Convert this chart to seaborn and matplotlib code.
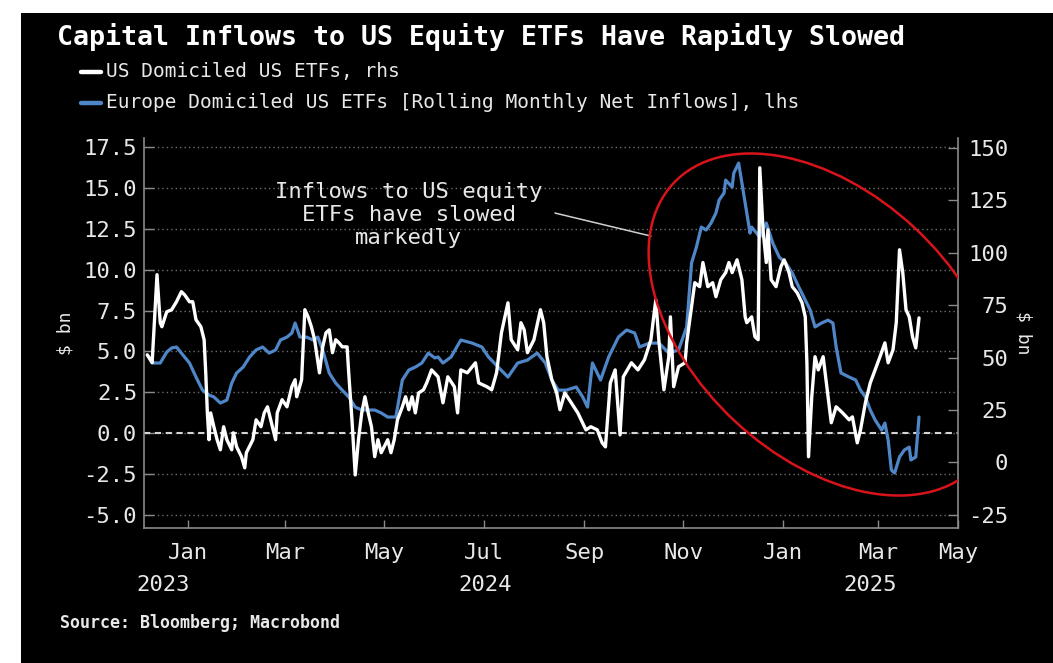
import matplotlib
matplotlib.use("Agg")
import matplotlib.pyplot as plt
import matplotlib.dates as mdates
import matplotlib.transforms as mtransforms
from matplotlib.patches import Ellipse, Rectangle
from matplotlib.lines import Line2D
import pandas as pd
import seaborn as sns

# ---------------------------------------------------------------- data
us_dates = [
    "2023-12-07", "2023-12-10", "2023-12-13", "2023-12-15", "2023-12-16", "2023-12-19",
    "2023-12-22", "2023-12-25", "2023-12-28", "2023-12-30", "2024-01-02", "2024-01-04",
    "2024-01-06", "2024-01-09", "2024-01-11", "2024-01-12", "2024-01-13", "2024-01-14",
    "2024-01-15", "2024-01-17", "2024-01-19", "2024-01-21", "2024-01-23", "2024-01-25",
    "2024-01-28", "2024-01-29", "2024-01-31", "2024-02-03", "2024-02-05", "2024-02-06",
    "2024-02-10", "2024-02-12", "2024-02-15", "2024-02-17", "2024-02-19", "2024-02-21",
    "2024-02-24", "2024-02-25", "2024-02-28", "2024-03-02", "2024-03-05", "2024-03-07",
    "2024-03-08", "2024-03-11", "2024-03-13", "2024-03-15", "2024-03-17", "2024-03-19",
    "2024-03-22", "2024-03-24", "2024-03-26", "2024-03-28", "2024-03-30", "2024-04-01",
    "2024-04-03", "2024-04-05", "2024-04-08", "2024-04-09", "2024-04-11", "2024-04-13",
    "2024-04-15", "2024-04-17", "2024-04-19", "2024-04-21", "2024-04-23", "2024-04-25",
    "2024-04-27", "2024-04-29", "2024-05-03", "2024-05-05", "2024-05-07", "2024-05-09",
    "2024-05-12", "2024-05-14", "2024-05-16", "2024-05-18", "2024-05-20", "2024-05-22",
    "2024-05-25", "2024-05-27", "2024-05-30", "2024-06-03", "2024-06-06", "2024-06-09",
    "2024-06-13", "2024-06-15", "2024-06-17", "2024-06-21", "2024-06-26", "2024-06-28",
    "2024-07-03", "2024-07-06", "2024-07-09", "2024-07-12", "2024-07-16", "2024-07-18",
    "2024-07-22", "2024-07-24", "2024-07-26", "2024-07-28", "2024-08-01", "2024-08-05",
    "2024-08-07", "2024-08-09", "2024-08-12", "2024-08-15", "2024-08-17", "2024-08-20",
    "2024-08-24", "2024-08-28", "2024-09-02", "2024-09-05", "2024-09-09", "2024-09-12",
    "2024-09-14", "2024-09-17", "2024-09-20", "2024-09-23", "2024-09-25", "2024-09-30",
    "2024-10-04", "2024-10-08", "2024-10-12", "2024-10-15", "2024-10-17", "2024-10-20",
    "2024-10-23", "2024-10-24", "2024-10-26", "2024-10-29", "2024-11-02", "2024-11-03",
    "2024-11-06", "2024-11-08", "2024-11-11", "2024-11-13", "2024-11-16", "2024-11-19",
    "2024-11-21", "2024-11-24", "2024-11-27", "2024-11-29", "2024-12-01", "2024-12-04",
    "2024-12-07", "2024-12-09", "2024-12-10", "2024-12-13", "2024-12-15", "2024-12-17",
    "2024-12-18", "2024-12-20", "2024-12-22", "2024-12-23", "2024-12-25", "2024-12-28",
    "2024-12-31", "2025-01-02", "2025-01-05", "2025-01-07", "2025-01-10", "2025-01-13",
    "2025-01-15", "2025-01-16", "2025-01-17", "2025-01-19", "2025-01-21", "2025-01-23",
    "2025-01-26", "2025-01-28", "2025-01-31", "2025-02-03", "2025-02-07", "2025-02-11",
    "2025-02-13", "2025-02-16", "2025-02-18", "2025-02-21", "2025-02-24", "2025-02-27",
    "2025-03-02", "2025-03-05", "2025-03-07", "2025-03-10", "2025-03-12", "2025-03-14",
    "2025-03-16", "2025-03-18", "2025-03-20", "2025-03-22", "2025-03-24", "2025-03-26",
]
us_flows = [
    51.3, 47.5, 89.5, 66.6, 64.7, 71.8,
    72.8, 76.6, 81.4, 79.9, 76.6, 76.6,
    68.0, 64.7, 58.5, 42.7, 23.6, 10.8,
    23.6, 17.0, 10.8, 6.0, 17.0, 10.8,
    6.0, 14.1, 7.4, 2.7, -2.6, 4.6,
    10.8, 20.3, 17.0, 23.6, 26.5, 20.3,
    10.8, 23.6, 29.9, 26.5, 36.1, 39.4,
    31.3, 39.4, 72.8, 69.4, 64.7, 58.5,
    42.7, 55.1, 61.8, 63.2, 52.3, 58.5,
    57.0, 55.1, 55.1, 42.7, 20.3, -6.0,
    10.8, 23.6, 31.3, 23.6, 17.0, 2.7,
    10.8, 4.6, 10.8, 4.6, 10.8, 20.3,
    26.5, 31.3, 25.1, 31.3, 23.6, 33.1,
    34.6, 37.9, 44.1, 40.8, 28.4, 40.8,
    36.1, 23.6, 44.1, 42.7, 47.5, 37.9,
    36.1, 34.6, 42.7, 61.8, 76.1, 58.5,
    53.7, 66.6, 63.2, 52.3, 58.5, 72.8,
    66.6, 50.4, 39.4, 33.1, 25.1, 33.1,
    28.4, 23.6, 15.5, 17.0, 15.5, 9.3,
    7.4, 37.9, 44.1, 13.1, 40.8, 47.5,
    44.1, 48.9, 58.5, 77.5, 57.0, 34.6,
    50.4, 69.4, 36.1, 45.6, 47.5, 57.0,
    74.2, 85.7, 83.8, 95.3, 83.8, 85.7,
    79.0, 87.1, 90.5, 95.3, 90.5, 96.6,
    87.1, 69.4, 66.6, 69.4, 59.9, 58.5,
    140.5, 110.9, 95.3, 110.9, 87.1, 83.8,
    93.3, 96.6, 90.5, 83.8, 80.9, 76.1,
    69.4, 47.5, 2.7, 31.3, 50.4, 44.1,
    50.4, 37.9, 18.9, 26.5, 23.6, 20.3,
    21.7, 9.3, 15.5, 28.4, 37.9, 44.1,
    50.4, 57.0, 47.5, 53.7, 66.6, 101.4,
    90.5, 72.8, 69.4, 59.9, 54.6, 68.9,
]

eu_dates = [
    "2023-12-07", "2023-12-11", "2023-12-15", "2023-12-19", "2023-12-22", "2023-12-25",
    "2023-12-28", "2024-01-02", "2024-01-06", "2024-01-10", "2024-01-14", "2024-01-17",
    "2024-01-21", "2024-01-25", "2024-01-28", "2024-01-31", "2024-02-04", "2024-02-08",
    "2024-02-12", "2024-02-16", "2024-02-20", "2024-02-24", "2024-02-27", "2024-03-02",
    "2024-03-05", "2024-03-07", "2024-03-10", "2024-03-14", "2024-03-18", "2024-03-21",
    "2024-03-24", "2024-03-28", "2024-04-01", "2024-04-05", "2024-04-09", "2024-04-13",
    "2024-04-17", "2024-04-21", "2024-04-25", "2024-04-29", "2024-05-03", "2024-05-08",
    "2024-05-12", "2024-05-16", "2024-05-20", "2024-05-24", "2024-05-28", "2024-06-01",
    "2024-06-03", "2024-06-06", "2024-06-11", "2024-06-17", "2024-06-24", "2024-06-30",
    "2024-07-04", "2024-07-10", "2024-07-16", "2024-07-22", "2024-07-28", "2024-08-03",
    "2024-08-08", "2024-08-12", "2024-08-16", "2024-08-21", "2024-08-27", "2024-08-31",
    "2024-09-03", "2024-09-06", "2024-09-11", "2024-09-16", "2024-09-22", "2024-09-27",
    "2024-10-02", "2024-10-05", "2024-10-11", "2024-10-17", "2024-10-23", "2024-10-29",
    "2024-11-03", "2024-11-06", "2024-11-09", "2024-11-12", "2024-11-15", "2024-11-18",
    "2024-11-21", "2024-11-23", "2024-11-26", "2024-11-27", "2024-12-01", "2024-12-02",
    "2024-12-05", "2024-12-07", "2024-12-10", "2024-12-12", "2024-12-13", "2024-12-18",
    "2024-12-22", "2024-12-26", "2024-12-30", "2025-01-03", "2025-01-07", "2025-01-11",
    "2025-01-15", "2025-01-18", "2025-01-21", "2025-01-25", "2025-01-29", "2025-02-01",
    "2025-02-03", "2025-02-06", "2025-02-11", "2025-02-15", "2025-02-18", "2025-02-21",
    "2025-02-24", "2025-02-27", "2025-03-03", "2025-03-05", "2025-03-07", "2025-03-09",
    "2025-03-11", "2025-03-14", "2025-03-17", "2025-03-20", "2025-03-21", "2025-03-24",
    "2025-03-26",
]
eu_flows = [
    4.78, 4.29, 4.29, 4.96, 5.21, 5.27,
    4.90, 4.29, 3.43, 2.63, 2.33, 2.21,
    1.84, 2.02, 3.06, 3.68, 4.04, 4.66,
    5.09, 5.27, 4.90, 5.09, 5.70, 5.88,
    6.13, 6.74, 5.88, 5.88, 5.70, 5.88,
    5.09, 3.68, 3.06, 2.63, 2.21, 1.59,
    1.41, 1.41, 1.41, 1.23, 0.98, 0.98,
    3.25, 3.86, 4.04, 4.29, 4.90, 4.60,
    4.66, 4.29, 4.66, 5.70, 5.51, 5.27,
    4.66, 4.04, 3.43, 4.29, 4.47, 4.90,
    4.29, 3.25, 2.63, 2.63, 2.82, 2.21,
    1.59, 4.29, 3.25, 4.66, 5.88, 6.31,
    6.13, 5.27, 5.51, 5.51, 4.90, 5.09,
    6.50, 10.42, 11.40, 12.62, 12.44, 12.87,
    13.48, 14.28, 14.71, 15.50, 15.07, 15.93,
    16.54, 15.32, 13.48, 12.25, 12.62, 12.01,
    12.87, 11.64, 10.78, 10.42, 9.80, 8.95,
    8.15, 7.54, 6.50, 6.74, 6.92, 6.74,
    5.27, 3.68, 3.43, 3.25, 2.63, 2.21,
    1.41, 0.80, 0.18, 0.61, -0.43, -2.27,
    -2.45, -1.47, -1.04, -0.86, -1.65, -1.47,
    0.98,
]

left_ticks = [-5.0, -2.5, 0.0, 2.5, 5.0, 7.5, 10.0, 12.5, 15.0, 17.5]
right_ticks = [-25, 0, 25, 50, 75, 100, 125, 150]
month_ticks = ["2024-01-01", "2024-03-01", "2024-05-01", "2024-07-01", "2024-09-01",
               "2024-11-01", "2025-01-01", "2025-03-01"]
month_labels = ["Jan", "Mar", "May", "Jul", "Sep", "Nov", "Jan", "Mar", "May"]
year_positions = ["2023-12-17", "2024-07-02", "2025-02-24"]
year_labels = ["2023", "2024", "2025"]

title = "Capital Inflows to US Equity ETFs Have Rapidly Slowed"
legend_labels = ["US Domiciled US ETFs, rhs",
                 "Europe Domiciled US ETFs [Rolling Monthly Net Inflows], lhs"]
note = "Inflows to US equity\nETFs have slowed\nmarkedly"
source = "Source: Bloomberg; Macrobond"

us = pd.DataFrame({"date": pd.to_datetime(us_dates), "flow": us_flows})
eu = pd.DataFrame({"date": pd.to_datetime(eu_dates), "flow": eu_flows})

# ---------------------------------------------------------------- style
WHITE = "#ffffff"
BLUE = "#4f86c8"
RED = "#d8141a"
FRAME = "#8a8a8a"
TEXT = "#e8e8e8"

sns.set_theme(style="ticks", rc={
    "axes.facecolor": "black",
    "figure.facecolor": "black",
    "axes.edgecolor": FRAME,
    "text.color": TEXT,
    "axes.labelcolor": TEXT,
    "xtick.color": FRAME,
    "ytick.color": FRAME,
})
plt.rcParams["font.family"] = ["DejaVu Sans Mono", "DejaVu Sans"]

fig = plt.figure(figsize=(10.53, 6.63), dpi=100, facecolor="white")
fig.patches.append(Rectangle((21 / 1053, 0), 1 - 21 / 1053, 1 - 13 / 663,
                             transform=fig.transFigure, facecolor="black",
                             edgecolor="none", zorder=-10))

ax = fig.add_axes([144 / 1053, 1 - 528 / 663, (958 - 144) / 1053, (528 - 138) / 663])
ax.set_facecolor("black")

sns.lineplot(data=eu, x="date", y="flow", ax=ax, color=BLUE, linewidth=2.3, zorder=3)
ax2 = ax.twinx()
sns.lineplot(data=us, x="date", y="flow", ax=ax2, color=WHITE, linewidth=2.4, zorder=4)

# ---------------------------------------------------------------- axes
x_left = pd.Timestamp("2023-12-05")
x_right = pd.Timestamp("2025-04-19")
ax.set_xlim(x_left, x_right)
ax.set_ylim(-5.82, 18.08)
ax2.set_ylim(-31.3, 154.7)

ax.set_yticks(left_ticks)
ax.set_yticklabels([f"{v:.1f}" for v in left_ticks])
ax2.set_yticks(right_ticks)
ax2.set_yticklabels([str(v) for v in right_ticks])

tick_pos = list(pd.to_datetime(month_ticks)) + [x_right]
ax.set_xticks(tick_pos)
ax.set_xticklabels(month_labels)

ax.tick_params(axis="y", direction="in", length=7, width=1, colors=FRAME,
               labelcolor=TEXT, labelsize=16, pad=5)
ax.tick_params(axis="x", direction="in", length=6, width=1, colors=FRAME,
               labelcolor=TEXT, labelsize=16, pad=11)
ax2.tick_params(axis="y", direction="in", length=7, width=1, colors=FRAME,
                labelcolor=TEXT, labelsize=16, pad=36)
for lab in ax2.get_yticklabels():
    lab.set_horizontalalignment("right")

for pos, lab in zip(year_positions, year_labels):
    ax.text(pd.Timestamp(pos), -0.146, lab, transform=ax.get_xaxis_transform(),
            ha="center", va="center", fontsize=16, color=TEXT)

ax.set_xlabel("")
ax.set_ylabel(r"\$ bn", fontsize=13, color=TEXT, rotation=90, va="center", ha="center",
              rotation_mode="anchor")
ax.yaxis.set_label_coords(-0.096, 0.5)
ax2.set_xlabel("")
ax2.set_ylabel(r"\$ bn", fontsize=13, color=TEXT, rotation=270, va="center", ha="center",
               rotation_mode="anchor")
ax2.yaxis.set_label_coords(1.081, 0.5)

for a in (ax, ax2):
    a.spines["top"].set_visible(False)
    for s in a.spines.values():
        s.set_color(FRAME)
        s.set_linewidth(1.2)
ax.spines["right"].set_visible(False)
ax2.spines["left"].set_visible(False)
ax2.spines["bottom"].set_visible(False)

ax.yaxis.grid(True, color="#6e6e6e", linestyle=(0, (1, 2.2)), linewidth=1.0, zorder=1)
ax.xaxis.grid(False)
ax2.grid(False)
ax.axhline(0, color="#d4d4d4", linewidth=1.5, linestyle=(0, (3, 2.2)), zorder=2)

# ---------------------------------------------------------------- annotation
ax.text(pd.Timestamp("2024-05-16"), 13.35, note, ha="center", va="center",
        multialignment="center", fontsize=16, color=TEXT, linespacing=1.2, zorder=5)
ax.annotate("", xy=(pd.Timestamp("2024-10-12"), 12.07),
            xytext=(pd.Timestamp("2024-08-14"), 13.48),
            arrowprops=dict(arrowstyle="-", color="#d0d0d0", lw=1.1,
                            shrinkA=0, shrinkB=0), zorder=5)

centre = mtransforms.ScaledTranslation(mdates.date2num(pd.Timestamp("2025-01-27")), 6.65,
                                       ax.transData)
ring = Ellipse((0, 0), width=4.14, height=2.64, angle=-43,
               transform=fig.dpi_scale_trans + centre,
               facecolor="none", edgecolor=RED, linewidth=1.8, zorder=6)
ax2.add_patch(ring)

# ---------------------------------------------------------------- titles & legend
fig.text(57 / 1053, 1 - 37 / 663, title, ha="left", va="center", fontsize=19.2,
         fontweight="bold", color="white")
for y_px, colour, lab in zip([72, 103], [WHITE, BLUE], legend_labels):
    fig.add_artist(Line2D([81 / 1053, 101 / 1053], [1 - y_px / 663] * 2,
                          transform=fig.transFigure, color=colour, linewidth=3.2))
    fig.text(106 / 1053, 1 - y_px / 663, lab, ha="left", va="center", fontsize=14,
             color=TEXT)

fig.text(60 / 1053, 1 - 623 / 663, source, ha="left", va="center", fontsize=12,
         fontweight="bold", color=TEXT)

fig.savefig("out.png", dpi=100, facecolor=fig.get_facecolor())
